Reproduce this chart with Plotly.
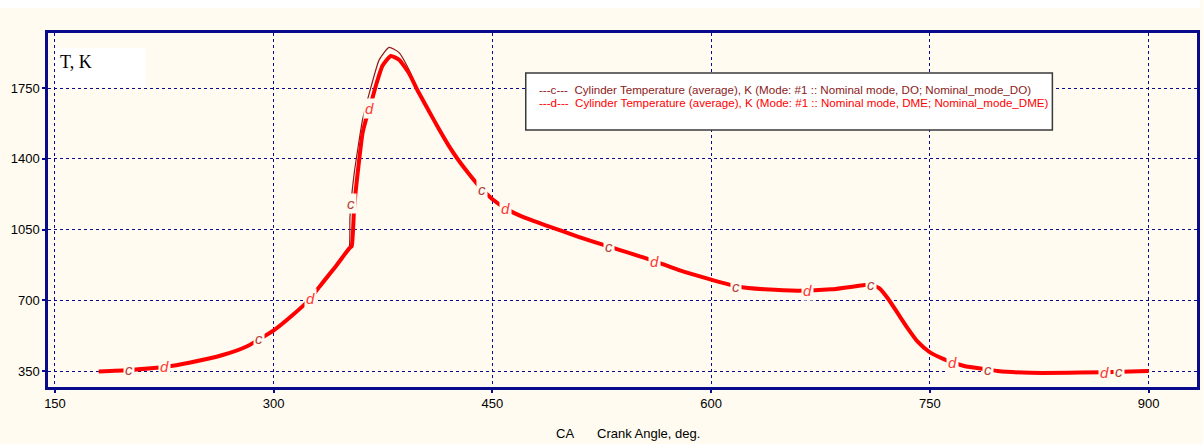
import numpy as np
import plotly.graph_objects as go

# ---------------- data ----------------
ca_dme = [180, 201, 226, 242, 265, 281, 300, 313, 324, 333, 343, 349.5, 352, 353.5, 355.2, 358.6,
          360.9, 364.3, 367.7, 370, 374.6, 380.3, 386, 392.8, 398.5, 406.5, 413.3, 420, 426, 433, 441,
          450, 460, 470, 486, 509, 530, 559, 577.5, 600, 618.5, 636.8, 659.6, 682.4, 705.2,
          709.6, 715.4, 721.1, 728, 734.8, 741.6, 749.6, 759.9, 773.5, 789.5, 796.4, 818.9,
          853.2, 887.4, 900]
t_dme = [347, 355, 371, 391, 429, 470, 551, 627, 700, 782, 872, 935, 958, 968, 1163, 1394,
         1526, 1620, 1700, 1760, 1860, 1908, 1890, 1823, 1740, 1635, 1547, 1465, 1400, 1333, 1263,
         1200, 1150, 1115, 1072, 1014, 965, 899, 850, 802, 767, 754, 747, 754, 775,
         777, 759, 710, 635, 561, 495, 445, 408, 375, 358, 350, 341,
         342, 347, 350]

ca_do = [180, 201, 226, 242, 265, 281, 300, 313, 324, 333, 343, 349, 351.8, 352.3, 355.2,
         360.9, 364.3, 367.7, 372.3, 379.1, 386, 392.8, 398.5, 406.5, 413.3, 420, 426, 433, 441,
         450, 460, 470, 486, 509, 530, 559, 577.5, 600, 618.5, 636.8, 659.6, 682.4, 705.2,
         709.6, 715.4, 721.1, 728, 734.8, 741.6, 749.6, 759.9, 773.5, 789.5, 796.4, 818.9,
         853.2, 887.4, 900]
t_do = [347, 355, 371, 391, 429, 470, 551, 627, 700, 782, 872, 935, 962, 1113, 1328,
        1592, 1691, 1781, 1889, 1951, 1925, 1840, 1745, 1635, 1547, 1465, 1400, 1333, 1263,
        1200, 1150, 1115, 1072, 1014, 965, 899, 850, 802, 767, 754, 747, 754, 775,
        777, 759, 710, 635, 561, 495, 445, 408, 375, 358, 350, 341,
        342, 347, 350]

label_ca_do = [201, 290, 353.2, 443, 530, 617, 709.5, 789.5, 880]
label_ca_dme = [225, 325, 365.5, 459, 561, 666, 765.6, 870]

x_ticks = [150, 300, 450, 600, 750, 900]
y_ticks = [350, 700, 1050, 1400, 1750]

legend_do = "---c---  Cylinder Temperature (average), K (Mode: #1 :: Nominal mode, DO; Nominal_mode_DO)"
legend_dme = "---d---  Cylinder Temperature (average), K (Mode: #1 :: Nominal mode, DME; Nominal_mode_DME)"

# ---------------- style ----------------
W, H = 1203, 444
L, R, T, B = 48, 1200, 33, 387
BG = "#FFFBF0"
NAVY = "#0A0A8C"
C_DO = "#8B1A1A"
C_DME = "#FF0000"
FONT = "Liberation Sans Narrow, Arial Narrow, Liberation Sans, Arial, sans-serif"

def px_x(p):
    return (p - L) / (R - L)

def px_y(p):
    return (B - p) / (B - T)

# pixel mapping derived from reference: 150 deg at px 55, 900 at px 1151.5
sx = (1151.5 - 55) / 750.0
x0 = 150 - (55 - L) / sx
x1 = 900 + (R - 1151.5) / sx
sy = (371 - 88) / 1400.0
y0 = 350 - (B - 371) / sy
y1 = 1750 + (88 - T) / sy

fig = go.Figure()
fig.add_trace(go.Scatter(x=ca_do, y=t_do, mode="lines",
                         line=dict(color=C_DO, width=1.2, shape="spline", smoothing=0.5),
                         hoverinfo="skip"))
fig.add_trace(go.Scatter(x=ca_dme, y=t_dme, mode="lines",
                         line=dict(color=C_DME, width=4, shape="spline", smoothing=0.5),
                         hoverinfo="skip"))

annotations = []
for xc in label_ca_do:
    yc = float(np.interp(xc, ca_do, t_do))
    annotations.append(dict(x=xc, y=yc, xref="x", yref="y", text="<i>c</i>", showarrow=False,
                            font=dict(family=FONT, size=15, color="#B0403A"),
                            bgcolor=BG, borderpad=1, xanchor="center", yanchor="middle"))
for xc in label_ca_dme:
    yc = float(np.interp(xc, ca_dme, t_dme))
    annotations.append(dict(x=xc, y=yc, xref="x", yref="y", text="<i>d</i>", showarrow=False,
                            font=dict(family=FONT, size=15, color="#FF3535"),
                            bgcolor=BG, borderpad=1, xanchor="center", yanchor="middle"))

# legend text
annotations.append(dict(x=px_x(538), y=px_y(89), xref="paper", yref="paper", text=legend_do,
                        showarrow=False, xanchor="left", yanchor="middle",
                        font=dict(family=FONT, size=11.6, color=C_DO)))
annotations.append(dict(x=px_x(538), y=px_y(103), xref="paper", yref="paper", text=legend_dme,
                        showarrow=False, xanchor="left", yanchor="middle",
                        font=dict(family=FONT, size=11.6, color=C_DME)))
# T, K label
annotations.append(dict(x=px_x(58), y=px_y(62), xref="paper", yref="paper", text="T, K",
                        showarrow=False, xanchor="left", yanchor="middle",
                        font=dict(family="Liberation Serif, Times New Roman, serif", size=18, color="#000000")))
# x axis title
annotations.append(dict(x=px_x(566), y=px_y(433), xref="paper", yref="paper", text="CA",
                        showarrow=False, xanchor="center", yanchor="middle",
                        font=dict(family=FONT, size=13, color="#000000")))
annotations.append(dict(x=px_x(650), y=px_y(433), xref="paper", yref="paper", text="Crank Angle, deg.",
                        showarrow=False, xanchor="center", yanchor="middle",
                        font=dict(family=FONT, size=13, color="#000000")))

shapes = [
    # white strip at the very top
    dict(type="rect", xref="paper", yref="paper", x0=px_x(0), x1=px_x(W), y0=px_y(8), y1=px_y(0),
         fillcolor="#FFFFFF", line=dict(width=0), layer="below"),
    # T, K box
    dict(type="rect", xref="paper", yref="paper", x0=px_x(55), x1=px_x(146), y0=px_y(87), y1=px_y(48),
         fillcolor="#FFFFFF", line=dict(width=0), layer="above"),
    # legend box
    dict(type="rect", xref="paper", yref="paper", x0=px_x(527), x1=px_x(1055), y0=px_y(130), y1=px_y(73),
         fillcolor="#FFFFFF", line=dict(color="#3A3A3A", width=1.5), layer="above"),
]

axis_common = dict(showline=True, linecolor=NAVY, linewidth=2.5, mirror=True,
                   showgrid=True, gridcolor=NAVY, gridwidth=1, griddash="3px,3px",
                   ticks="outside", ticklen=3, tickcolor=NAVY, tickwidth=1.5,
                   zeroline=False, tickfont=dict(family=FONT, size=13, color="#000000"))

fig.update_layout(
    width=W, height=H,
    margin=dict(l=L, r=W - R, t=T, b=H - B, pad=0),
    paper_bgcolor=BG, plot_bgcolor=BG,
    showlegend=False,
    xaxis=dict(range=[x0, x1], tickvals=x_ticks, ticktext=[str(v) for v in x_ticks], **axis_common),
    yaxis=dict(range=[y0, y1], tickvals=y_ticks, ticktext=[str(v) for v in y_ticks], **axis_common),
    annotations=annotations,
    shapes=shapes,
)

fig.write_html("out.html", config={"displayModeBar": False},
               post_script="document.body.style.margin='0px';document.body.style.padding='0px';")
